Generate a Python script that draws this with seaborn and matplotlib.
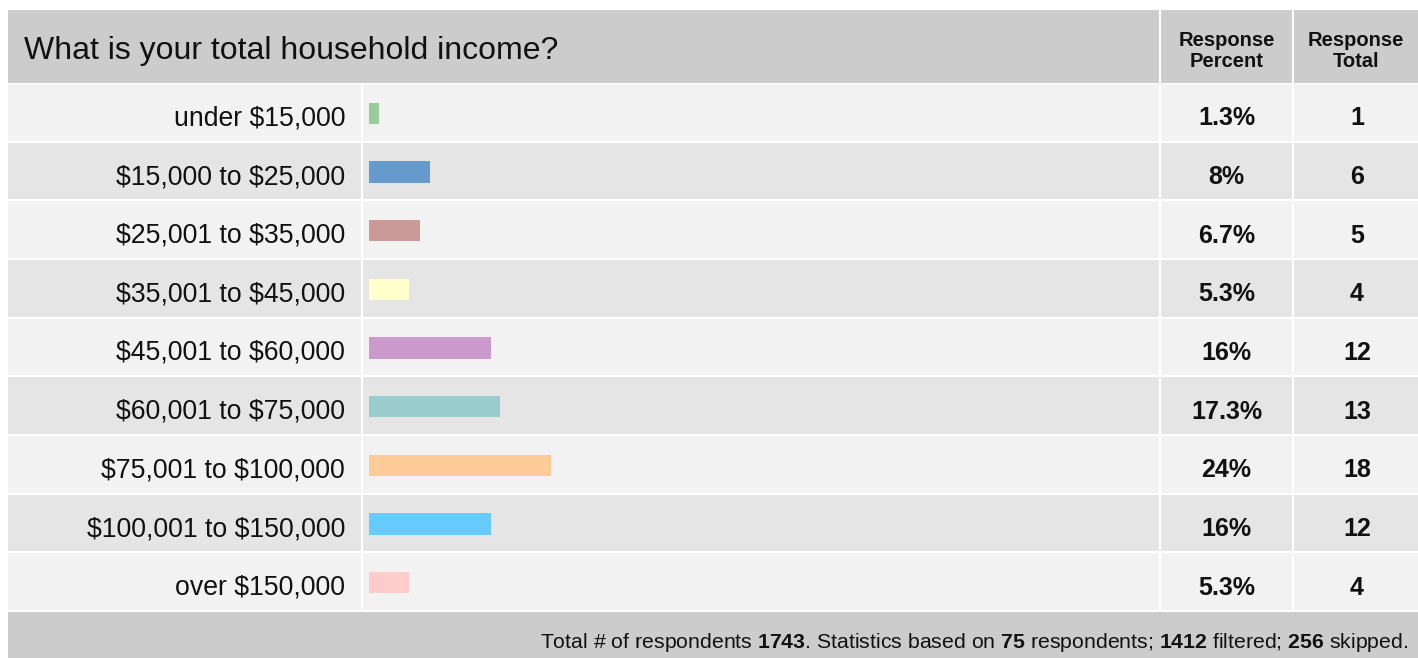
import matplotlib
matplotlib.use("Agg")
import matplotlib.pyplot as plt
import seaborn as sns
import pandas as pd
from matplotlib.patches import Rectangle

# ---- data ----
categories = ["under $15,000", "$15,000 to $25,000", "$25,001 to $35,000",
              "$35,001 to $45,000", "$45,001 to $60,000", "$60,001 to $75,000",
              "$75,001 to $100,000", "$100,001 to $150,000", "over $150,000"]
percents = [1.3, 8, 6.7, 5.3, 16, 17.3, 24, 16, 5.3]
percent_labels = ["1.3%", "8%", "6.7%", "5.3%", "16%", "17.3%", "24%", "16%", "5.3%"]
totals = [1, 6, 5, 4, 12, 13, 18, 12, 4]
bar_colors = ["#99cc99", "#6699cc", "#cc9999", "#ffffcc", "#cc99cc",
              "#99cccc", "#ffcc99", "#66ccff", "#ffcccc"]
title = "What is your total household income?"
col_headers = ["Response\nPercent", "Response\nTotal"]
footer_parts = [("Total # of respondents ", False), ("1743", True),
                (". Statistics based on ", False), ("75", True),
                (" respondents; ", False), ("1412", True),
                (" filtered; ", False), ("256", True), (" skipped.", False)]

sns.set_theme(style="white")
plt.rcParams['font.family'] = ['Liberation Sans', 'DejaVu Sans']
plt.rcParams['mathtext.fontset'] = 'custom'
plt.rcParams['mathtext.rm'] = 'Liberation Sans'
plt.rcParams['mathtext.bf'] = 'Liberation Sans:bold'

W, H = 1418, 658
fig = plt.figure(figsize=(W / 100, H / 100), dpi=100)
fig.patch.set_facecolor("white")

# background layer in pixel coords
bg = fig.add_axes([0, 0, 1, 1])
bg.set_xlim(0, W)
bg.set_ylim(H, 0)
bg.axis("off")

left, x_bar, x_pct, x_tot, right = 8, 361, 1159, 1292, W
top, head_bot, rows_bot = 10, 83, 612
n = len(categories)
row_h = (rows_bot - 84) / n
gap = 2

def rect(x0, y0, x1, y1, c):
    bg.add_patch(Rectangle((x0, y0), x1 - x0, y1 - y0, facecolor=c, edgecolor="none"))

# header
rect(left, top, right, head_bot, "#cccccc")
for xv in (x_pct, x_tot):
    rect(xv, top, xv + gap, head_bot, "white")
# rows
for i in range(n):
    y0 = 84 + i * row_h
    c = "#f2f2f2" if i % 2 == 0 else "#e5e5e5"
    rect(left, y0, right, y0 + row_h - gap, c)
    for xv in (x_bar, x_pct, x_tot):
        rect(xv, y0, xv + gap, y0 + row_h, "white")
# footer
rect(left, rows_bot, right, H, "#cccccc")

bg.text(24, 51, title, fontsize=23, va="center", ha="left", color="#111111")
bg.text((x_pct + x_tot) / 2 + 1, 51, col_headers[0], fontsize=14.5,
        fontweight="bold", ha="center", va="center", linespacing=1.13, color="#111111")
bg.text((x_tot + right) / 2 + 1, 51, col_headers[1], fontsize=14.5,
        fontweight="bold", ha="center", va="center", linespacing=1.13, color="#111111")

for i in range(n):
    yc = 84 + i * row_h + (row_h - gap) / 2 + 6
    bg.text(345, yc, categories[i], fontsize=19.2, ha="right", va="center",
            parse_math=False, color="#111111")
    bg.text((x_pct + x_tot) / 2 + 1, yc, percent_labels[i], fontsize=18,
            fontweight="bold", ha="center", va="center", color="#111111")
    bg.text((x_tot + right) / 2 + 2, yc, str(totals[i]), fontsize=18,
            fontweight="bold", ha="center", va="center", color="#111111")

# footer mixed-weight text via mathtext
footer = ""
for txt, bold in footer_parts:
    if bold:
        footer += r"$\mathbf{" + txt + "}$"
    else:
        footer += txt
bg.text(1408, (rows_bot + H) / 2 + 7, footer, fontsize=15.3, ha="right", va="center",
        color="#111111")

# bar axes
ax = fig.add_axes([x_bar / W, 1 - rows_bot / H, (x_pct - x_bar) / W, (rows_bot - 84) / H])
ax.patch.set_alpha(0)
df = pd.DataFrame({"category": categories, "percent": percents})
sns.barplot(data=df, x="percent", y="category", hue="category", palette=bar_colors,
            width=0.36, legend=False, ax=ax, saturation=1, edgecolor="none")
px_per_pct = 7.6
ax.set_xlim(-8 / px_per_pct, (x_pct - x_bar - 8) / px_per_pct)
ax.set_ylim(n - 0.5, -0.5)
ax.axis("off")

fig.savefig("out.png", dpi=100, facecolor="white")
